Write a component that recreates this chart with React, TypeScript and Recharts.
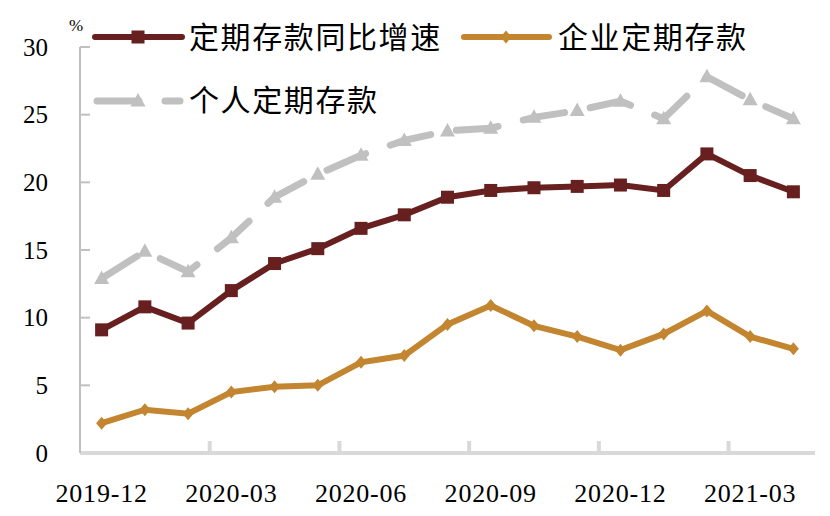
import React from 'react';
import { LineChart, Line, XAxis, YAxis } from 'recharts';

const categories = ['2019-12','2020-01','2020-02','2020-03','2020-04','2020-05','2020-06','2020-07','2020-08','2020-09','2020-10','2020-11','2020-12','2021-01','2021-02','2021-03','2021-04'];
const totalGrowth = [9.1,10.8,9.6,12.0,14.0,15.1,16.6,17.6,18.9,19.4,19.6,19.7,19.8,19.4,22.1,20.5,19.3];
const corporate = [2.2,3.2,2.9,4.5,4.9,5.0,6.7,7.2,9.5,10.9,9.4,8.6,7.6,8.8,10.5,8.6,7.7];
const personal = [12.9,14.9,13.4,15.9,18.9,20.6,22.0,23.1,23.8,24.0,24.8,25.3,26.0,24.7,27.8,26.1,24.7];
const yTicks = [0,5,10,15,20,25,30];
const seriesNames = ['定期存款同比增速','企业定期存款','个人定期存款'];

const RED = '#67201F';
const GOLD = '#C3852F';
const GREY = '#C0C0C0';

const W = 830, H = 516;
const M = { top: 47, right: 15, bottom: 0, left: 0 };
const Y_AXIS_W = 80;
const X_AXIS_H = 63;
const BAND = (W - Y_AXIS_W - M.right) / categories.length;

const data = categories.map((c, i) => ({ cat: c, total: totalGrowth[i], corp: corporate[i], pers: personal[i] }));

const Square = (p: any) => <rect key={`sq${p.index}`} x={p.cx - 6.5} y={p.cy - 6.5} width={13} height={13} fill={RED} />;
const Diamond = (p: any) => <polygon key={`di${p.index}`} points={`${p.cx},${p.cy - 6.5} ${p.cx + 5.5},${p.cy} ${p.cx},${p.cy + 6.5} ${p.cx - 5.5},${p.cy}`} fill={GOLD} />;
const Tri = (p: any) => <polygon key={`tr${p.index}`} points={`${p.cx},${p.cy - 8} ${p.cx + 7.5},${p.cy + 5.5} ${p.cx - 7.5},${p.cy + 5.5}`} fill={GREY} />;

const YTick = (p: any) => {
  const { x, y, payload } = p;
  const axisX = x + 32;
  return (
    <g>
      {payload.value !== 0 && <line x1={axisX} x2={axisX + 10} y1={y} y2={y} stroke={GREY} strokeWidth={2} />}
      <text x={x} y={y} dy="0.35em" textAnchor="end" fontFamily="'Liberation Serif', serif" fontSize={25} fill="#000">{payload.value}</text>
    </g>
  );
};

const XTick = (p: any) => {
  const { x, y, index, payload } = p;
  if (index % 3 !== 0) return <g />;
  const bx = x - BAND / 2;
  return (
    <g>
      {index > 0 && <line x1={bx} x2={bx} y1={y} y2={y - 12} stroke="#D9D9D9" strokeWidth={4} />}
      <text x={x} y={y + 40} dy="0.35em" textAnchor="middle" fontFamily="'Liberation Serif', serif" fontSize={26} letterSpacing={0.8} fill="#000">{payload.value}</text>
    </g>
  );
};

const LegendBox = () => {
  const cjk = "'Noto Sans CJK SC', sans-serif";
  return (
    <svg width={W} height={130} style={{ position: 'absolute', left: 0, top: 0 }}>
      <text x={76} y={31} textAnchor="middle" fontFamily="'Liberation Serif', serif" fontSize={17} fill="#000">%</text>
      <line x1={95} x2={182} y1={37} y2={37} stroke={RED} strokeWidth={6} strokeLinecap="round" />
      <rect x={131.5} y={30.5} width={13} height={13} fill={RED} />
      <text x={189} y={37} dy="0.36em" fontFamily={cjk} fontSize={30} letterSpacing={1.6} fill="#000">{seriesNames[0]}</text>
      <line x1={464} x2={549} y1={37} y2={37} stroke={GOLD} strokeWidth={6} strokeLinecap="round" />
      <polygon points={`506,30.5 511.5,37 506,43.5 500.5,37`} fill={GOLD} />
      <text x={558} y={37} dy="0.36em" fontFamily={cjk} fontSize={30} letterSpacing={1.6} fill="#000">{seriesNames[1]}</text>
      <line x1={97} x2={180} y1={101} y2={101} stroke={GREY} strokeWidth={7} strokeLinecap="round" strokeDasharray="42 26" />
      <polygon points={`138,93 145.5,106.5 130.5,106.5`} fill={GREY} />
      <text x={189} y={100} dy="0.36em" fontFamily={cjk} fontSize={30} letterSpacing={1.6} fill="#000">{seriesNames[2]}</text>
    </svg>
  );
};

export default function App() {
  return (
    <div style={{ position: 'absolute', left: 0, top: 0, width: W, height: H, background: '#fff' }}>
      <LineChart width={W} height={H} data={data} margin={M}>
        <XAxis dataKey="cat" scale="band" interval={0} height={X_AXIS_H} tickLine={false} tickSize={0} tickMargin={0}
          axisLine={{ stroke: '#D9D9D9', strokeWidth: 4 }} tick={<XTick />} />
        <YAxis domain={[0, 30]} ticks={yTicks} width={Y_AXIS_W} tickLine={false} tickSize={0} tickMargin={32}
          axisLine={{ stroke: GREY, strokeWidth: 2 }} tick={<YTick />} interval={0} />
        <Line type="linear" dataKey="pers" name={seriesNames[2]} stroke={GREY} strokeWidth={7} strokeLinecap="round"
          strokeDasharray="42 26" dot={Tri} activeDot={false} isAnimationActive={false} />
        <Line type="linear" dataKey="corp" name={seriesNames[1]} stroke={GOLD} strokeWidth={6}
          dot={Diamond} activeDot={false} isAnimationActive={false} />
        <Line type="linear" dataKey="total" name={seriesNames[0]} stroke={RED} strokeWidth={6}
          dot={Square} activeDot={false} isAnimationActive={false} />
      </LineChart>
      <LegendBox />
    </div>
  );
}
